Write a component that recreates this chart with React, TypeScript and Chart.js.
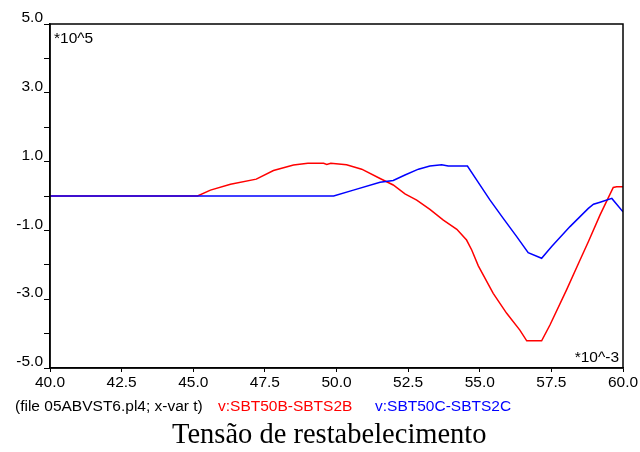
import React, { useEffect, useRef } from "react";
import { Chart, registerables } from "chart.js";

Chart.register(...registerables);

// Time axis in ms (*10^-3 s), voltage in *10^5 V
const redTimes = [40, 45.15, 45.6, 46.3, 47.2, 47.8, 48.5, 49.0, 49.55, 49.66, 49.8, 50.35, 50.88, 51.52, 51.98, 52.39, 52.8, 53.26, 53.73, 54.2, 54.54, 54.72, 54.95, 55.47, 55.94, 56.4, 56.64, 57.16, 57.45, 58.03, 58.5, 58.79, 59.2, 59.66, 59.78, 60];
const redValues = [0, 0, 0.17, 0.34, 0.49, 0.74, 0.9, 0.95, 0.95, 0.92, 0.95, 0.91, 0.78, 0.51, 0.32, 0.06, -0.12, -0.39, -0.7, -0.97, -1.28, -1.57, -2.03, -2.83, -3.41, -3.9, -4.21, -4.21, -3.75, -2.73, -1.86, -1.33, -0.55, 0.25, 0.27, 0.27];

const blueTimes = [40, 49.9, 50.59, 51.52, 51.98, 52.39, 52.86, 53.26, 53.67, 53.9, 54.57, 54.89, 55.36, 55.82, 56.29, 56.69, 57.16, 57.51, 58.15, 58.79, 58.97, 59.2, 59.61, 60];
const blueValues = [0, 0, 0.17, 0.4, 0.45, 0.61, 0.78, 0.87, 0.91, 0.87, 0.87, 0.47, -0.12, -0.65, -1.18, -1.65, -1.81, -1.47, -0.89, -0.36, -0.24, -0.18, -0.07, -0.46];

const xTickValues = [40, 42.5, 45, 47.5, 50, 52.5, 55, 57.5, 60];
const yTickValues = [-5, -4, -3, -2, -1, 0, 1, 2, 3, 4, 5];
const yLabeledTicks = [-5, -3, -1, 1, 3, 5];

const redName = "v:SBT50B-SBTS2B";
const blueName = "v:SBT50C-SBTS2C";
const fileLabel = "(file 05ABVST6.pl4; x-var t)";
const yScaleLabel = "*10^5";
const xScaleLabel = "*10^-3";
const titleText = "Tensão de restabelecimento";

const FONT = '"Liberation Sans", Arial, sans-serif';
const FS = 15.5;

export default function App() {
  const canvasRef = useRef<HTMLCanvasElement | null>(null);

  useEffect(() => {
    const canvas = canvasRef.current;
    if (!canvas) return;

    const boxPlugin = {
      id: "boxAndMultipliers",
      afterDraw(chart: any) {
        const { ctx, chartArea } = chart;
        ctx.save();
        ctx.strokeStyle = "#000";
        ctx.lineWidth = 1.5;
        ctx.strokeRect(chartArea.left, chartArea.top, chartArea.right - chartArea.left, chartArea.bottom - chartArea.top);
        ctx.fillStyle = "#000";
        ctx.font = FS + "px " + FONT;
        ctx.textBaseline = "alphabetic";
        ctx.textAlign = "left";
        ctx.fillText(yScaleLabel, chartArea.left + 4, chartArea.top + 19);
        ctx.textAlign = "right";
        ctx.fillText(xScaleLabel, chartArea.right - 4, chartArea.bottom - 6);
        ctx.restore();
      },
    };

    const chart = new Chart(canvas, {
      type: "line",
      data: {
        datasets: [
          {
            label: blueName,
            data: blueTimes.map((t, i) => ({ x: t, y: blueValues[i] })),
            borderColor: "#0000ff",
            borderWidth: 1.5,
            pointRadius: 0,
            tension: 0,
            fill: false,
            order: 0,
          },
          {
            label: redName,
            data: redTimes.map((t, i) => ({ x: t, y: redValues[i] })),
            borderColor: "#ff0000",
            borderWidth: 1.5,
            pointRadius: 0,
            tension: 0,
            fill: false,
            order: 1,
          },
        ],
      },
      options: {
        animation: false,
        responsive: false,
        devicePixelRatio: 1,
        layout: { padding: { left: 0, right: 17, top: 24, bottom: 60 } },
        plugins: {
          legend: { display: false },
          tooltip: { enabled: false },
          title: { display: false },
        },
        scales: {
          x: {
            type: "linear",
            min: 40,
            max: 60,
            afterBuildTicks: (scale: any) => {
              scale.ticks = xTickValues.map((v) => ({ value: v }));
            },
            afterFit: (scale: any) => {
              scale.height = 24;
            },
            ticks: {
              autoSkip: false,
              maxRotation: 0,
              color: "#000",
              font: { family: FONT, size: FS },
              padding: 1,
              callback: (v: any) => Number(v).toFixed(1),
            },
            grid: {
              drawOnChartArea: false,
              drawTicks: true,
              tickLength: 4,
              color: "#000",
              lineWidth: 1,
            },
            border: { display: true, color: "#000", width: 1.5 },
          },
          y: {
            type: "linear",
            min: -5,
            max: 5,
            afterBuildTicks: (scale: any) => {
              scale.ticks = yTickValues.map((v) => ({ value: v }));
            },
            afterFit: (scale: any) => {
              scale.width = 50;
            },
            ticks: {
              autoSkip: false,
              color: "#000",
              font: { family: FONT, size: FS },
              padding: 1,
              labelOffset: -6,
              callback: (v: any) => (yLabeledTicks.includes(Number(v)) ? Number(v).toFixed(1) : ""),
            },
            grid: {
              drawOnChartArea: false,
              drawTicks: true,
              tickLength: 6,
              color: "#000",
              lineWidth: 1,
            },
            border: { display: true, color: "#000", width: 1.5 },
          },
        },
      },
      plugins: [boxPlugin],
    } as any);

    return () => chart.destroy();
  }, []);

  return (
    <div style={{ position: "fixed", left: 0, top: 0, width: 640, height: 452, background: "#fff", overflow: "hidden" }}>
      <canvas ref={canvasRef} width={640} height={452} style={{ position: "absolute", left: 0, top: 0 }} />
      <div style={{ position: "absolute", top: 397, left: 0, width: 640, height: 18, fontFamily: FONT, fontSize: FS, lineHeight: "18px", whiteSpace: "nowrap" }}>
        <span style={{ position: "absolute", left: 15, color: "#000" }}>{fileLabel}</span>
        <span style={{ position: "absolute", left: 218, color: "#ff0000" }}>{redName}</span>
        <span style={{ position: "absolute", left: 375, color: "#0000ff" }}>{blueName}</span>
      </div>
      <div
        style={{
          position: "absolute",
          top: 418,
          left: 172,
          fontFamily: '"Liberation Serif", "Times New Roman", serif',
          fontSize: 28.5,
          lineHeight: "32px",
          whiteSpace: "nowrap",
          color: "#000",
        }}
      >
        {titleText}
      </div>
    </div>
  );
}
